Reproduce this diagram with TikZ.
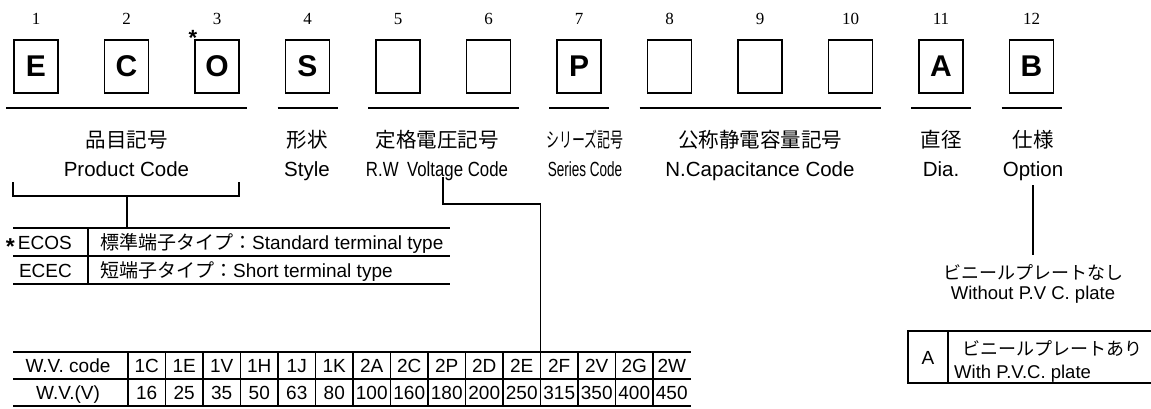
\documentclass[tikz,border=0pt]{standalone}
\usepackage{graphicx}
\usepackage{fontspec}
\setmainfont{Liberation Serif}
\setsansfont{Liberation Sans}
\newfontfamily\jpfont{Noto Sans CJK JP}
\newcommand\numfont{\fontsize{17}{20}\selectfont\rmfamily}
\newcommand\letfont{\fontsize{30}{32}\selectfont\sffamily\bfseries}
\newcommand\labfont{\fontsize{20.5}{24}\selectfont\sffamily}
\newcommand\tabfont{\fontsize{19}{22}\selectfont\sffamily}
\newcommand\narrow[2]{\scalebox{#1}[1]{#2}}
\newcommand\bigast{\raisebox{-0.3em}{\bfseries\fontsize{23}{23}\selectfont *}}

\begin{document}
\begin{tikzpicture}[x=1pt,y=-1pt,
    codebox/.style={draw,line width=1.4pt,minimum width=44pt,minimum height=53pt,inner sep=0pt,font=\letfont},
    digit/.style={anchor=base,inner sep=0pt,font=\numfont},
    lab/.style={anchor=base,inner sep=0pt,font=\labfont},
    jlab/.style={anchor=base,inner sep=0pt,font=\labfont\jpfont},
    tab/.style={anchor=base,inner sep=0pt,font=\tabfont},
    uline/.style={line width=1.6pt},
    rule/.style={line width=1.1pt}]
\useasboundingbox (0,0) rectangle (1151,409);

% code boxes and their numbers
\foreach \ltr [count=\i] in {E,C,O,S,{},{},P,{},{},{},A,B} {
  \node[codebox] (box\i) at ({36+90.5*(\i-1)},66.5) {\ltr};
  \node[digit] (num\i) at ({36+90.5*(\i-1)},25) {\i};
}
\node[anchor=base,inner sep=0pt,font=\fontsize{22}{22}\selectfont\sffamily\bfseries] (ast) at (193,46) {*};

% underlines of the groups
\foreach \a/\b in {1/3,4/4,5/6,7/7,8/10,11/11,12/12}
  \draw[uline] ({14+90.5*(\a-1)-8},108) -- ({58+90.5*(\b-1)+8},108);

% group labels
\node[jlab] (pcj) at (126.5,148) {品目記号};
\node[lab] (pce) at (126.5,176) {Product Code};
\node[jlab] (stj) at (307,148) {形状};
\node[lab] (ste) at (307,176) {Style};
\node[jlab] (rwj) at (437,148) {定格電圧記号};
\node[lab] (rwe) at (437,176) {\narrow{0.82}{R.W\enspace Voltage Code}};
\node[jlab] (srj) at (585,148) {\narrow{0.63}{シリーズ記号}};
\node[lab] (sre) at (585,176) {\narrow{0.66}{Series Code}};
\node[jlab] (ncj) at (760,148) {公称静電容量記号};
\node[lab] (nce) at (760,176) {N.Capacitance Code};
\node[jlab] (diaj) at (941,148) {直径};
\node[lab] (diae) at (941,176) {Dia.};
\node[jlab] (optj) at (1033,148) {仕様};
\node[lab] (opte) at (1033,176) {Option};

% product code bracket and terminal table
\draw[rule] (13,182) -- (13,196) -- (239,196) -- (239,182);
\coordinate (brk) at (127,196);
\coordinate (ecos) at (127,228);
\draw[rule] (brk) -- (ecos);
\foreach \y in {228,256,284} \draw[rule] (13,\y) -- (450,\y);
\draw[rule] (88,228) -- (88,284);
\node[tab,anchor=base east] (ecos1) at (72,249) {\bigast\,ECOS};
\node[tab,anchor=base east] (ecec1) at (72,277) {ECEC};
\node[tab,anchor=base west] (ecos2) at (100,249) {{\jpfont 標準端子タイプ：}Standard terminal type};
\node[tab,anchor=base west] (ecec2) at (100,277) {{\jpfont 短端子タイプ：}Short terminal type};

% voltage code table
\coordinate (rwv) at (443,177);
\coordinate (wvtop) at (540.5,352);
\draw[rule] (rwv) -- ++(0,27) -| (wvtop);
\foreach \y in {352,379,406} \draw[rule] (13,\y) -- (690.5,\y);
\foreach \k in {0,...,14} \draw[rule] ({128+37.5*\k},352) -- ({128+37.5*\k},406);
\node[tab] (wvc) at (68,372) {W.V. code};
\node[tab] (wvv) at (68,399) {W.V.(V)};
\foreach \cd/\vv [count=\k] in {1C/16,1E/25,1V/35,1H/50,1J/63,1K/80,2A/100,2C/160,2P/180,2D/200,2E/250,2F/315,2V/350,2G/400,2W/450} {
  \node[tab] (cd\k) at ({128+37.5*(\k-0.5)},372) {\cd};
  \node[tab] (vv\k) at ({128+37.5*(\k-0.5)},399) {\vv};
}

% option
\coordinate (optc) at (1033,185);
\coordinate (nopvc) at (1033,255);
\draw[rule] (optc) -- (nopvc);
\node[tab,font=\fontsize{18}{21}\selectfont\jpfont] (noj) at (1033,279) {ビニールプレートなし};
\node[tab,font=\fontsize{18.5}{21}\selectfont\sffamily] (noe) at (1033,299.5) {Without P.V C. plate};
\draw[rule] (1151,331) -- (908,331) -- (908,383) -- (1151,383);
\draw[rule] (948,331) -- (948,383);
\node[tab] (pa) at (928,364.5) {A};
\node[tab,anchor=base west,font=\fontsize{18}{21}\selectfont\jpfont] (paj) at (962,355) {ビニールプレートあり};
\node[tab,anchor=base west,font=\fontsize{18.5}{21}\selectfont\sffamily] (pae) at (954,378.5) {With P.V.C. plate};
\end{tikzpicture}
\end{document}
